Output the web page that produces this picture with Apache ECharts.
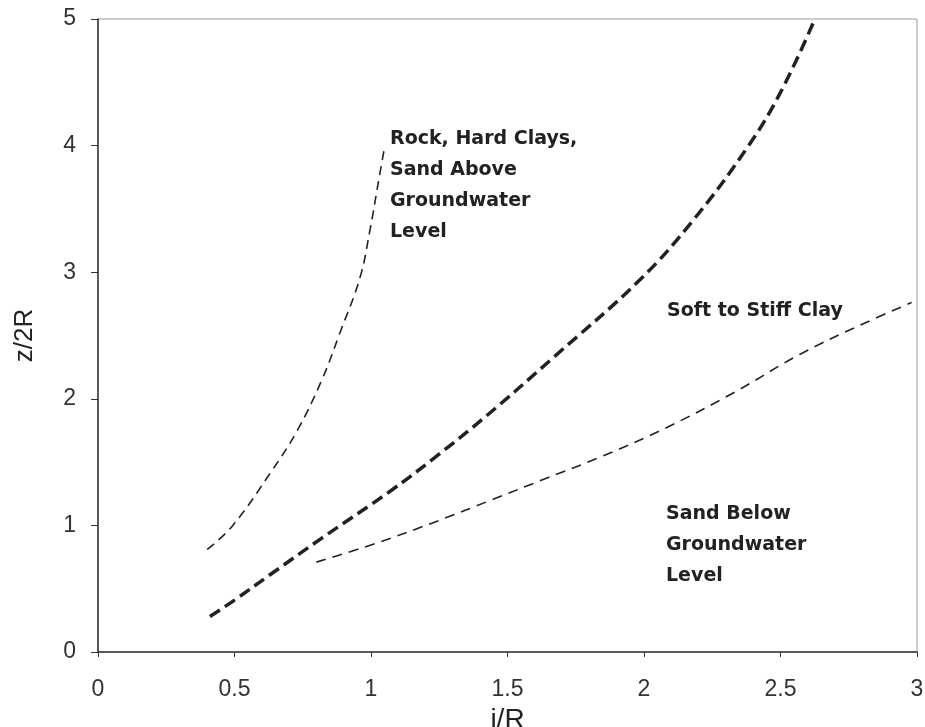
<!DOCTYPE html>
<html>
<head>
<meta charset="utf-8">
<script src="https://cdn.jsdelivr.net/npm/echarts@6/dist/echarts.min.js"></script>
<style>
  html, body { margin: 0; padding: 0; background: #fff; }
  #chart { width: 925px; height: 727px; }
</style>
</head>
<body>
<div id="chart"></div>
<script>
// curves (i/R, z/2R)
var rockX = [0.40, 0.49, 0.63, 0.73, 0.82, 0.886, 0.96, 0.996, 1.03, 1.05];
var rockY = [0.81, 0.99, 1.41, 1.75, 2.15, 2.52, 2.96, 3.33, 3.75, 3.99];

var clayX = [0.41, 0.50, 0.63, 0.82, 1.07, 1.23, 1.42, 1.67, 1.985, 2.18, 2.38, 2.50, 2.62];
var clayY = [0.28, 0.41, 0.61, 0.90, 1.27, 1.53, 1.86, 2.33, 2.94, 3.41, 3.99, 4.42, 4.97];

var sandX = [0.80, 1.02, 1.25, 1.44, 1.64, 1.84, 2.08, 2.33, 2.57, 2.79, 2.98];
var sandY = [0.71, 0.86, 1.04, 1.20, 1.37, 1.54, 1.77, 2.05, 2.35, 2.58, 2.76];

var xTicks = [0, 0.5, 1, 1.5, 2, 2.5, 3];
var yTicks = [0, 1, 2, 3, 4, 5];

var labelRock = 'Rock, Hard Clays,\nSand Above\nGroundwater\nLevel';
var labelClay = 'Soft to Stiff Clay';
var labelSand = 'Sand Below\nGroundwater\nLevel';

function pairs(xs, ys) {
    var out = [];
    for (var i = 0; i < xs.length; i++) {
        out.push([xs[i], ys[i]]);
    }
    return out;
}

var font = '"Liberation Sans", Arial, sans-serif';
var noteFont = 'bold 19px "DejaVu Sans", sans-serif';
var ink = '#222';

var myChart = echarts.init(document.getElementById('chart'));
var option = {
    backgroundColor: '#fff',
    animation: false,
    grid: {
        left: 98, right: 8, top: 19, bottom: 75,
        outerBoundsMode: 'none',
        containLabel: false,
        show: true,
        borderColor: '#999',
        borderWidth: 1
    },
    xAxis: {
        type: 'value',
        min: xTicks[0],
        max: xTicks[xTicks.length - 1],
        interval: 0.5,
        name: 'i/R',
        nameLocation: 'middle',
        nameGap: 46,
        nameTextStyle: { fontFamily: font, fontSize: 28, color: ink },
        axisLine: { lineStyle: { color: '#333', width: 1.5 } },
        axisTick: { show: true, length: 5, lineStyle: { color: '#333' } },
        axisLabel: { fontFamily: font, fontSize: 23, color: '#333', margin: 26 },
        splitLine: { show: false }
    },
    yAxis: {
        type: 'value',
        min: yTicks[0],
        max: yTicks[yTicks.length - 1],
        interval: 1,
        name: 'z/2R',
        nameLocation: 'middle',
        nameGap: 60,
        nameRotate: 90,
        nameTextStyle: { fontFamily: font, fontSize: 26, color: ink },
        axisLine: { show: true, lineStyle: { color: '#333', width: 1.5 } },
        axisTick: { show: true, length: 7, lineStyle: { color: '#333' } },
        axisLabel: { fontFamily: font, fontSize: 23, color: '#333', margin: 22 },
        splitLine: { show: false }
    },
    series: [
        {
            name: 'Rock, Hard Clays, Sand Above Groundwater Level',
            type: 'line',
            data: pairs(rockX, rockY),
            showSymbol: false,
            smooth: 0.4,
            lineStyle: { color: ink, width: 1.6, type: [9, 6] }
        },
        {
            name: 'Soft to Stiff Clay',
            type: 'line',
            data: pairs(clayX, clayY),
            showSymbol: false,
            smooth: 0.4,
            lineStyle: { color: ink, width: 3.5, type: [12, 6] }
        },
        {
            name: 'Sand Below Groundwater Level',
            type: 'line',
            data: pairs(sandX, sandY),
            showSymbol: false,
            smooth: 0.4,
            lineStyle: { color: ink, width: 1.6, type: [10, 7] }
        }
    ],
    graphic: [
        {
            type: 'text', left: 390, top: 124,
            style: { text: labelRock, font: noteFont, fill: ink, lineHeight: 31 }
        },
        {
            type: 'text', left: 667, top: 296,
            style: { text: labelClay, font: noteFont, fill: ink, lineHeight: 31 }
        },
        {
            type: 'text', left: 666, top: 499,
            style: { text: labelSand, font: noteFont, fill: ink, lineHeight: 31 }
        }
    ]
};
myChart.setOption(option);
</script>
</body>
</html>
